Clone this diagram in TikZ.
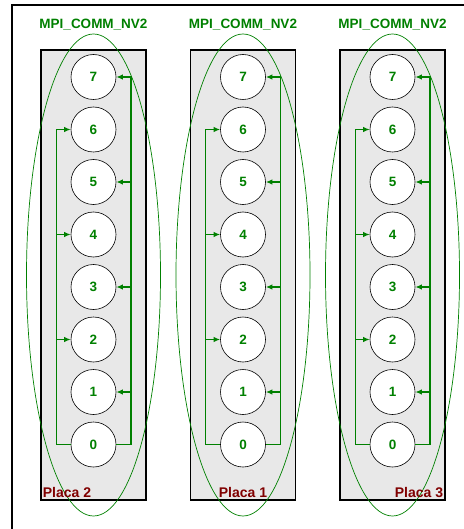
\documentclass[tikz,border=0pt]{standalone}
\usepackage{fontspec}
\setmainfont{Liberation Sans}
\usetikzlibrary{arrows.meta,positioning,shapes.geometric,calc}
\definecolor{mpigreen}{RGB}{0,128,0}
\definecolor{placared}{RGB}{128,0,0}
\definecolor{placagray}{RGB}{232,232,232}

\begin{document}
\begin{tikzpicture}[x=1pt, y=-1pt, node distance=6.9pt, >={Latex[length=6.5pt,width=5.5pt]},
  font=\bfseries\fontsize{13.5}{13.5}\selectfont,
  proc/.style={circle, draw, semithick, fill=white, minimum size=45pt, inner sep=0pt, text=mpigreen},
  placa/.style={draw, line width=1.6pt, fill=placagray, minimum width=105pt, minimum height=450pt, inner sep=0pt},
  comm/.style={draw=mpigreen, ellipse, line width=0.7pt, minimum width=134pt, minimum height=482pt, inner sep=0pt},
  commlbl/.style={text=mpigreen, inner sep=3pt},
  placalbl/.style={text=placared, font=\bfseries\fontsize{14}{14}\selectfont, inner sep=2.5pt},
  ring/.style={draw=mpigreen, line width=1.4pt}]
\useasboundingbox (0,0) rectangle (463,529);
\draw[line width=1.6pt] (12,540) -- (12,5) -- (470,5);
\foreach \b/\x in {2/93.5, 1/243, 3/392.5} {
  \node[placa] (placa\b) at (\x,275) {};
  \node[comm] (comm\b) at (\x,275) {};
  \node[commlbl, above=0pt of comm\b] {MPI\_COMM\_NV2};
  % processes of one board
  \node[proc] (p\b-7) at (\x,77) {7};
  \node[proc, below=of p\b-7] (p\b-6) {6};
  \node[proc, below=of p\b-6] (p\b-5) {5};
  \node[proc, below=of p\b-5] (p\b-4) {4};
  \node[proc, below=of p\b-4] (p\b-3) {3};
  \node[proc, below=of p\b-3] (p\b-2) {2};
  \node[proc, below=of p\b-2] (p\b-1) {1};
  \node[proc, below=of p\b-1] (p\b-0) {0};
  \coordinate (l\b) at ($(p\b-0.west)+(-14.5,0)$);
  \coordinate (r\b) at ($(p\b-0.east)+(14.5,0)$);
  \draw[ring, ->] (p\b-0.west) -- (l\b) |- (p\b-6.west);
  \draw[ring, ->] (l\b |- p\b-4.west) -- (p\b-4.west);
  \draw[ring, ->] (l\b |- p\b-2.west) -- (p\b-2.west);
  \draw[ring, ->] (p\b-0.east) -- (r\b) |- (p\b-7.east);
  \draw[ring, ->] (r\b |- p\b-5.east) -- (p\b-5.east);
  \draw[ring, ->] (r\b |- p\b-3.east) -- (p\b-3.east);
  \draw[ring, ->] (r\b |- p\b-1.east) -- (p\b-1.east);
}
\node[placalbl, anchor=south west] at (placa2.south west) {Placa 2};
\node[placalbl, anchor=south] at (placa1.south) {Placa 1};
\node[placalbl, anchor=south east] at (placa3.south east) {Placa 3};
\end{tikzpicture}
\end{document}
